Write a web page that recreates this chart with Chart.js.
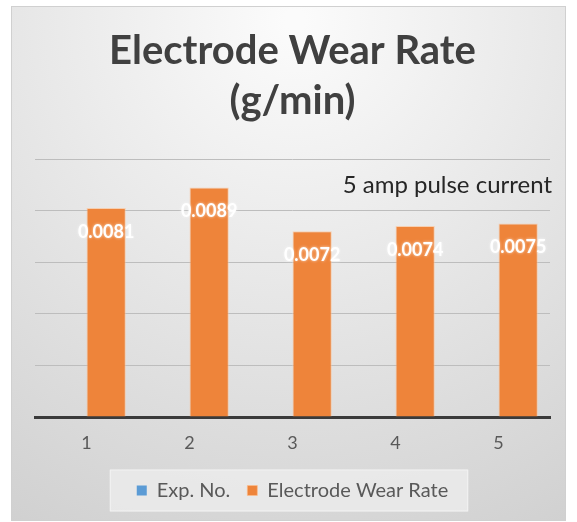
<!DOCTYPE html>
<html>
<head>
<meta charset="utf-8">
<script src="https://cdn.jsdelivr.net/npm/chart.js@4/dist/chart.umd.min.js"></script>
<style>
  html, body { margin: 0; padding: 0; background: #ffffff; }
  #wrap { width: 577px; height: 522px; position: relative; }
</style>
</head>
<body>
<div id="wrap"><canvas id="chart" width="577" height="522"></canvas></div>
<script>
// Experiment numbers along the x axis
const expNo = ['1', '2', '3', '4', '5'];
// Electrode wear rate per experiment (g/min)
const wearRate = [0.0081, 0.0089, 0.0072, 0.0074, 0.0075];
// The "Exp. No." series carries no plotted values
const expNoSeries = [];
// Value axis range and step
const yMin = 0;
const yMax = 0.01;
const yStep = 0.002;

const titleLines = ['Electrode Wear Rate', '(g/min)'];
const noteText = '5 amp pulse current';

// Soft gradient panel behind the whole chart, plus the legend's tinted box
const panelPlugin = {
  id: 'panel',
  beforeDraw(chart) {
    const ctx = chart.ctx;
    ctx.save();
    const g = ctx.createRadialGradient(295, 20, 10, 295, 20, 620);
    g.addColorStop(0, '#fbfbfb');
    g.addColorStop(1, '#cdcdcd');
    ctx.fillStyle = g;
    ctx.fillRect(11, 6, 555, 515);
    ctx.strokeStyle = '#d0d0d0';
    ctx.lineWidth = 1;
    ctx.strokeRect(11.5, 6.5, 554, 514);
    const lg = chart.legend;
    if (lg && lg.legendHitBoxes && lg.legendHitBoxes.length) {
      const boxes = lg.legendHitBoxes;
      const first = boxes[0];
      const last = boxes[boxes.length - 1];
      const x0 = first.left - 27;
      const x1 = last.left + last.width + 20;
      const cy = first.top + first.height / 2;
      ctx.fillStyle = 'rgba(238,238,238,0.75)';
      ctx.fillRect(x0, cy - 21, x1 - x0, 42);
      ctx.strokeStyle = 'rgba(250,250,250,0.6)';
      ctx.strokeRect(x0 + 0.5, cy - 20.5, x1 - x0 - 1, 41);
    }
    ctx.restore();
  }
};

// White value labels inside the top of each bar and the note text
const labelPlugin = {
  id: 'valueLabels',
  afterDatasetsDraw(chart) {
    const ctx = chart.ctx;
    const meta = chart.getDatasetMeta(1);
    const data = chart.data.datasets[1].data;
    ctx.save();
    ctx.font = 'bold 18px Lato';
    ctx.fillStyle = '#ffffff';
    ctx.textAlign = 'center';
    ctx.textBaseline = 'middle';
    ctx.shadowColor = 'rgba(255,255,255,0.7)';
    ctx.shadowBlur = 3;
    meta.data.forEach((bar, i) => {
      ctx.fillText(String(data[i]), bar.x, bar.y + 24);
    });
    ctx.shadowBlur = 0;
    ctx.font = '24px Lato';
    ctx.fillStyle = '#262626';
    ctx.textAlign = 'right';
    ctx.fillText(noteText, 552, 185);
    ctx.restore();
  }
};

new Chart(document.getElementById('chart'), {
  type: 'bar',
  data: {
    labels: expNo,
    datasets: [
      {
        label: 'Exp. No.',
        data: expNoSeries,
        backgroundColor: '#5B9BD5',
        borderWidth: 0
      },
      {
        label: 'Electrode Wear Rate',
        data: wearRate,
        backgroundColor: '#EE843A',
        borderColor: 'rgba(255,190,140,0.6)',
        borderWidth: 1
      }
    ]
  },
  options: {
    responsive: false,
    animation: false,
    devicePixelRatio: 1,
    datasets: {
      bar: { categoryPercentage: 0.763, barPercentage: 1.0 }
    },
    layout: { padding: { left: 35, right: 27, top: 26, bottom: 11.5 } },
    plugins: {
      title: {
        display: true,
        text: titleLines,
        color: '#404040',
        font: { family: 'Lato', size: 40, weight: 'bold', lineHeight: 1.25 },
        padding: { top: 0, bottom: 33 }
      },
      legend: {
        display: true,
        position: 'bottom',
        labels: {
          boxWidth: 10,
          boxHeight: 10,
          color: '#595959',
          font: { family: 'Lato', size: 20 },
          padding: 17
        }
      },
      tooltip: { enabled: false }
    },
    scales: {
      x: {
        grid: { display: false, drawTicks: false },
        border: { display: true, color: '#3a3a3a', width: 3 },
        ticks: {
          color: '#595959',
          font: { family: 'Lato', size: 18 },
          padding: 15
        },
        afterFit(scale) { scale.height = 46.5; }
      },
      y: {
        min: yMin,
        max: yMax,
        grid: { color: '#bdbdbd', lineWidth: 1, drawTicks: false },
        border: { display: false },
        ticks: { display: false, stepSize: yStep }
      }
    }
  },
  plugins: [panelPlugin, labelPlugin]
});
</script>
</body>
</html>
